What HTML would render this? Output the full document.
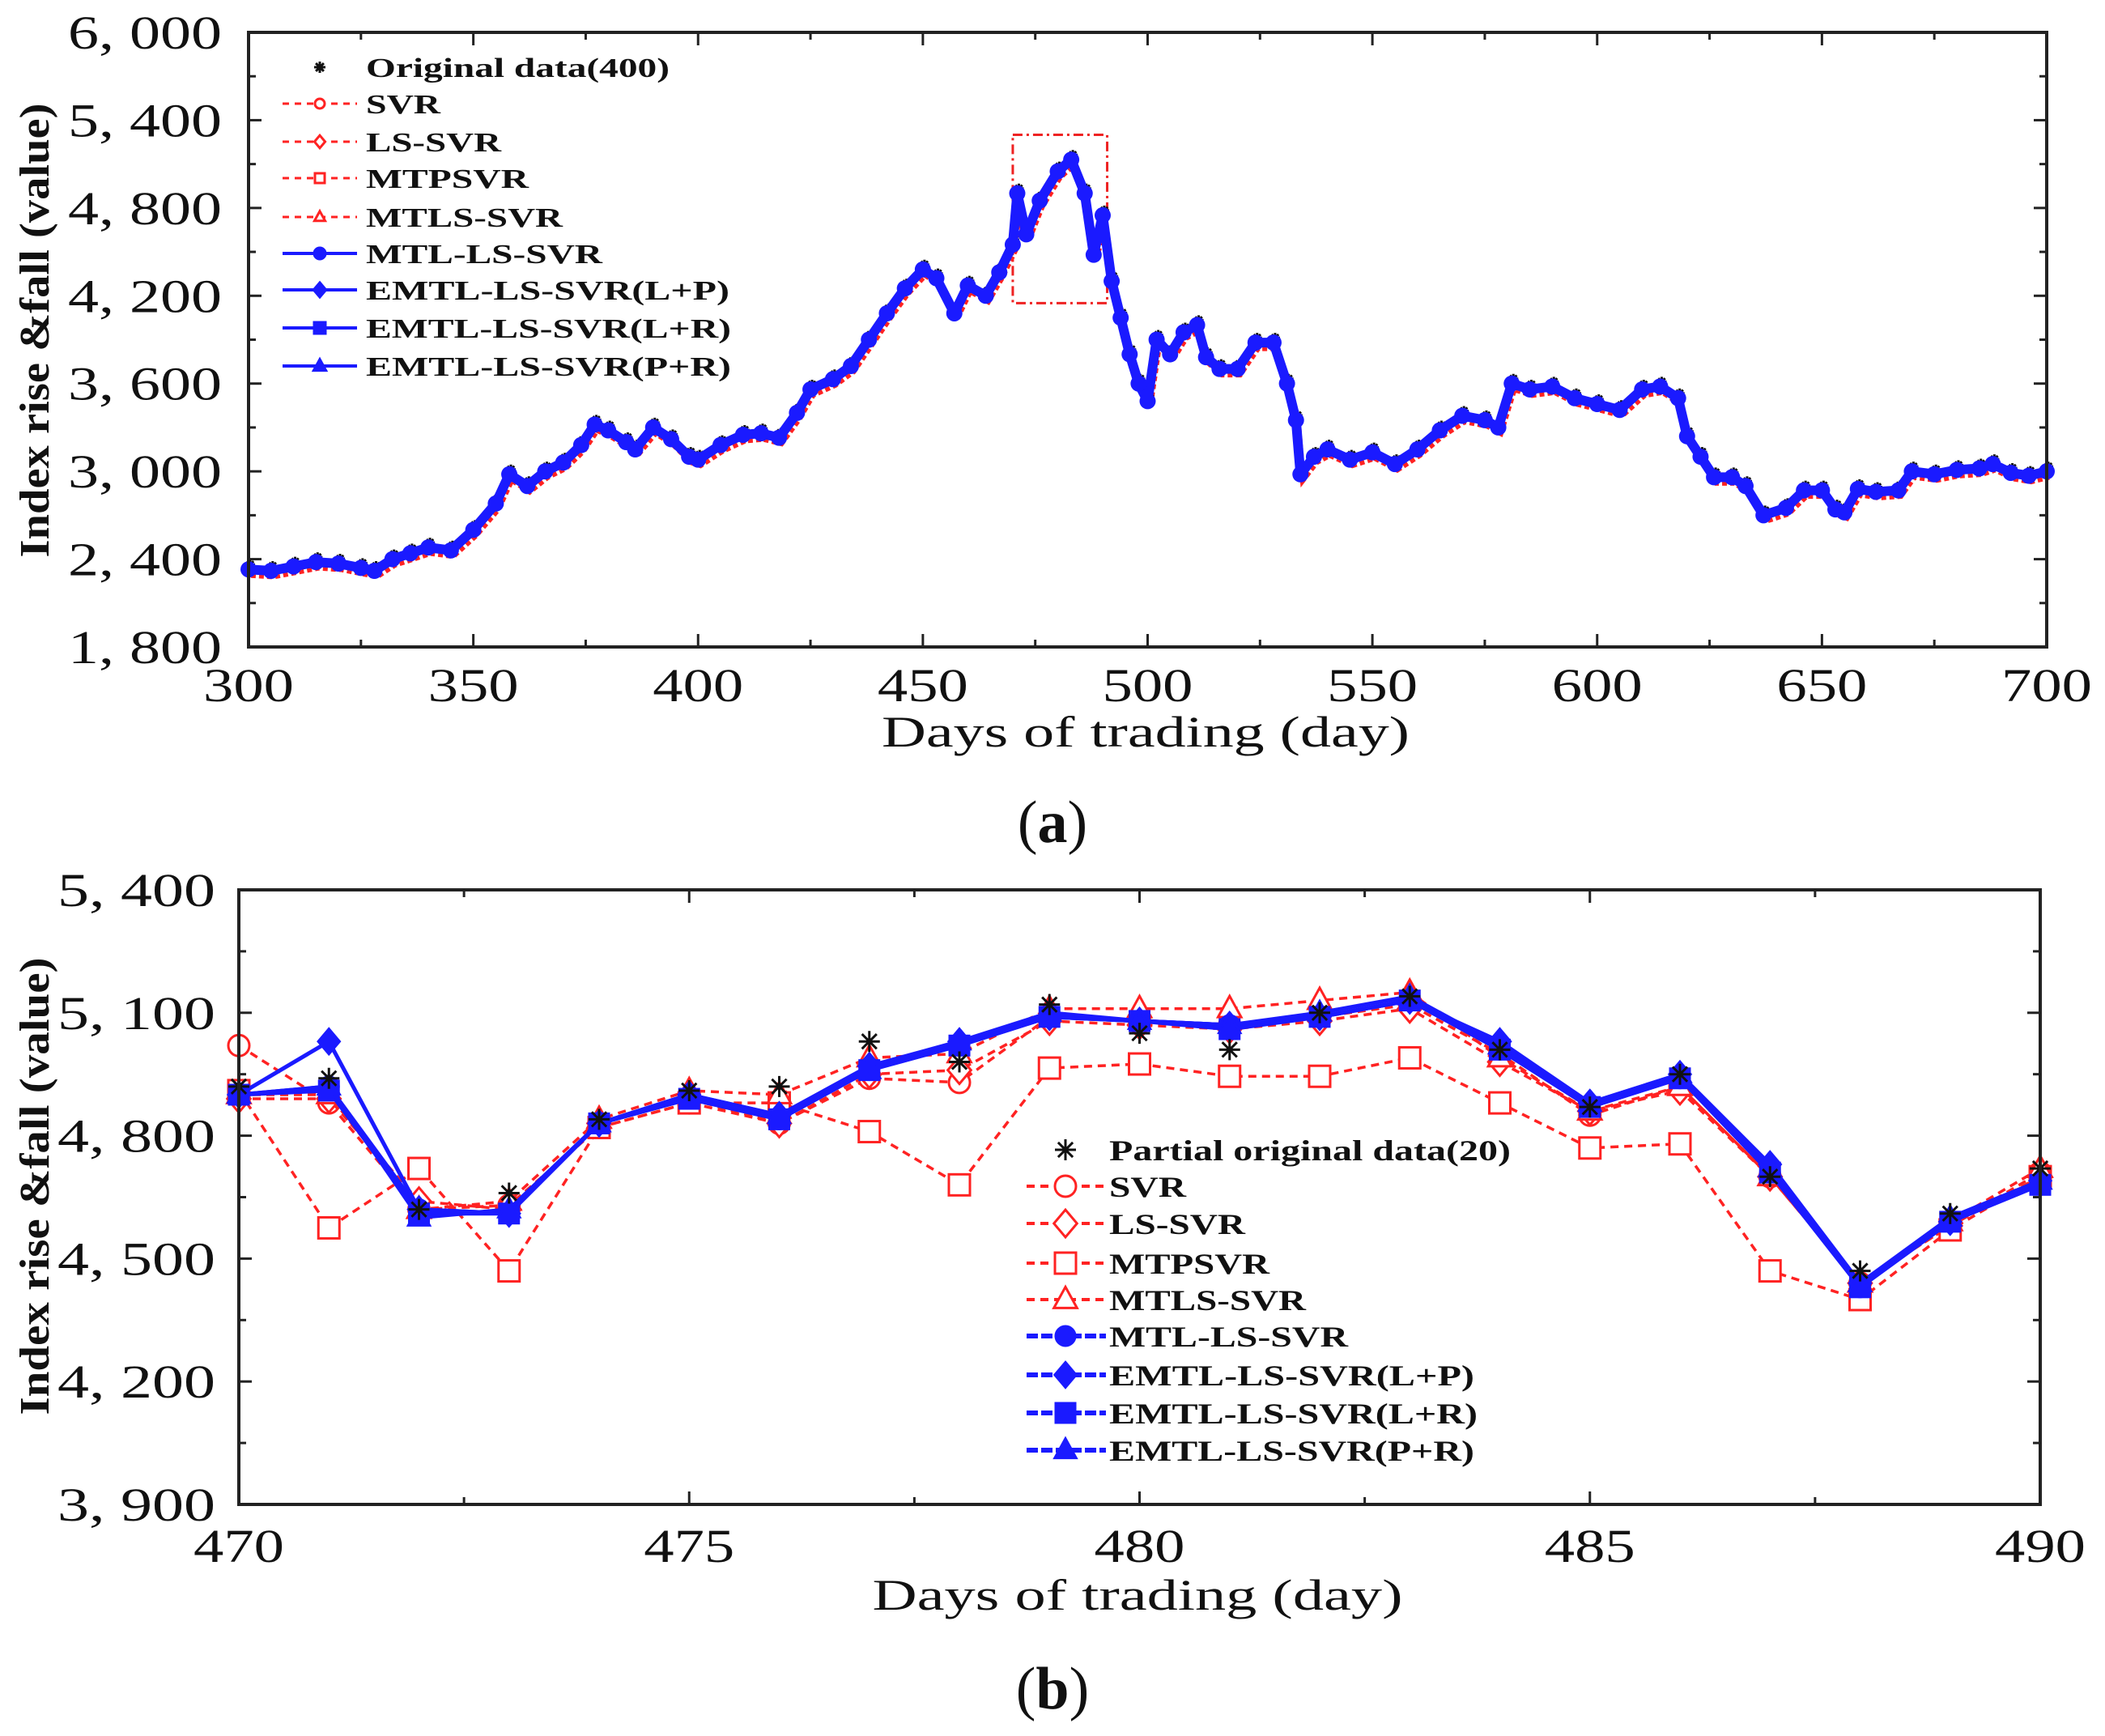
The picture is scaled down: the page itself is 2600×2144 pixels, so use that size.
<!DOCTYPE html>
<html><head><meta charset="utf-8">
<style>
html,body{margin:0;padding:0;background:#fff;}
svg{display:block;}
text{font-family:"Liberation Serif",serif;fill:#111;}
</style></head>
<body>
<svg id="fig" width="2600" height="2144" viewBox="0 0 2600 2144" xmlns="http://www.w3.org/2000/svg">
<g id="pa"></g>
<g id="pb"></g>
</svg>
<script>
// ---------- Chart (a) data ----------
const daysA = [300,305,310,315,320,325,328,332,336,340,345,350,355,358,362,366,370,374,377,380,384,386,390,394,398,400,405,410,414,418,422,425,430,434,438,442,446,450,453,457,460,464,467,470,471,473,476,480,483,486,488,490,492,494,496,498,500,502,505,508,511,513,516,520,524,528,531,533,534,537,540,545,550,555,560,565,570,575,578,581,585,590,595,600,605,610,614,618,620,623,626,630,633,637,642,646,650,653,655,658,662,667,670,675,680,685,688,692,696,700];
const valuesA = [2330,2320,2350,2380,2370,2340,2320,2400,2440,2480,2460,2600,2780,2980,2900,3000,3060,3180,3320,3280,3200,3150,3300,3220,3100,3080,3180,3250,3260,3230,3400,3560,3630,3720,3900,4080,4250,4380,4320,4080,4270,4200,4360,4550,4900,4620,4850,5050,5130,4900,4480,4750,4300,4050,3800,3600,3480,3900,3800,3950,4000,3780,3700,3700,3880,3880,3600,3350,2980,3100,3150,3080,3130,3050,3150,3280,3380,3350,3300,3600,3560,3580,3500,3460,3420,3560,3580,3500,3240,3100,2960,2960,2900,2700,2750,2870,2870,2740,2720,2880,2860,2870,3000,2980,3010,3020,3050,2990,2970,3000];
const yTicksA = [1800,2400,3000,3600,4200,4800,5400,6000];
const yTickLabelsA = ["1, 800","2, 400","3, 000","3, 600","4, 200","4, 800","5, 400","6, 000"];
const xTicksA = [300,350,400,450,500,550,600,650,700];
const legendA = ["Original data(400)","SVR","LS-SVR","MTPSVR","MTLS-SVR","MTL-LS-SVR","EMTL-LS-SVR(L+P)","EMTL-LS-SVR(L+R)","EMTL-LS-SVR(P+R)"];

// ---------- Chart (b) data ----------
const daysB = [470,471,472,473,474,475,476,477,478,479,480,481,482,483,484,485,486,487,488,489,490];
const origB = [4920,4940,4620,4660,4840,4910,4920,5030,4980,5120,5050,5010,5100,5140,5010,4870,4950,4700,4470,4610,4720];
const svrB = [5020,4880,4620,4630,4820,4880,4830,4940,4930,5090,5080,5070,5090,5120,5000,4850,4920,4700,4440,4580,4710];
const lssvrB = [4890,4890,4640,4620,4830,4890,4830,4950,4960,5080,5070,5060,5080,5110,4980,4860,4910,4700,4440,4580,4700];
const mtpsvrB = [4910,4575,4720,4470,4820,4880,4880,4810,4680,4965,4975,4945,4945,4990,4880,4770,4780,4470,4400,4570,4700];
const mtlssvrB = [4900,4900,4620,4640,4840,4910,4900,4990,5000,5110,5110,5110,5130,5150,4990,4860,4920,4700,4440,4590,4720];
const mtllssvrB = [4900,4920,4620,4610,4830,4890,4840,4960,5020,5090,5080,5070,5090,5130,5010,4870,4940,4710,4430,4590,4680];
const lpB = [4900,5030,4620,4610,4830,4900,4850,4970,5030,5090,5080,5070,5090,5130,5030,4880,4950,4730,4440,4590,4690];
const lrB = [4900,4910,4610,4610,4830,4890,4840,4960,5020,5090,5080,5060,5090,5130,5010,4870,4940,4710,4430,4590,4680];
const prB = [4900,4920,4600,4620,4830,4900,4850,4960,5030,5100,5080,5070,5100,5140,5020,4880,4950,4720,4440,4600,4690];
const yTicksB = [3900,4200,4500,4800,5100,5400];
const yTickLabelsB = ["3, 900","4, 200","4, 500","4, 800","5, 100","5, 400"];
const xTicksB = [470,475,480,485,490];
const legendB = ["Partial original data(20)","SVR","LS-SVR","MTPSVR","MTLS-SVR","MTL-LS-SVR","EMTL-LS-SVR(L+P)","EMTL-LS-SVR(L+R)","EMTL-LS-SVR(P+R)"];

const NS = "http://www.w3.org/2000/svg";
function mk(parent, tag, attrs, txt){
  const e = document.createElementNS(NS, tag);
  for (const k in attrs) e.setAttribute(k, attrs[k]);
  if (txt !== undefined) e.textContent = txt;
  parent.appendChild(e);
  return e;
}
function marker(g, shape, cx, cy, r, color, filled){
  const f = filled ? color : "#fff";
  let e;
  if (shape === "circle") e = mk(g, "circle", {cx:cx, cy:cy, r:r, fill:f, stroke:color, "stroke-width":3});
  else if (shape === "diamond") e = mk(g, "polygon", {points:`${cx},${cy-r*1.3} ${cx+r*1.1},${cy} ${cx},${cy+r*1.3} ${cx-r*1.1},${cy}`, fill:f, stroke:color, "stroke-width":3});
  else if (shape === "square") e = mk(g, "rect", {x:cx-r, y:cy-r, width:2*r, height:2*r, fill:f, stroke:color, "stroke-width":3});
  else if (shape === "triangle") e = mk(g, "polygon", {points:`${cx},${cy-r*1.2} ${cx+r*1.1},${cy+r*0.8} ${cx-r*1.1},${cy+r*0.8}`, fill:f, stroke:color, "stroke-width":3});
  else if (shape === "star") {
    e = mk(g, "path", {d:`M${cx-r},${cy}H${cx+r}M${cx},${cy-r}V${cy+r}M${cx-r*0.7},${cy-r*0.7}L${cx+r*0.7},${cy+r*0.7}M${cx-r*0.7},${cy+r*0.7}L${cx+r*0.7},${cy-r*0.7}`, stroke:"#111", "stroke-width":3, fill:"none"});
  }
  return e;
}

// ================= Chart (a) =================
(function(){
  const g = document.getElementById("pa");
  const L=307, R=2528, T=40, B=799;
  const xA = d => L + (d-300)/400*(R-L);
  const yA = v => B - (v-1800)/4200*(B-T);
  const tg = mk(g,"g",{});
  
  
  for (let d=300; d<=700; d+=25){
    const len = (d%50===0)?16:9;
    mk(tg,"line",{x1:xA(d),x2:xA(d),y1:B,y2:B-len,stroke:"#222","stroke-width":3});
    mk(tg,"line",{x1:xA(d),x2:xA(d),y1:T,y2:T+len,stroke:"#222","stroke-width":3});
  }
  for (let v=1800; v<=6000; v+=300){
    const len = (v%600===0)?16:9;
    mk(tg,"line",{x1:L,x2:L+len,y1:yA(v),y2:yA(v),stroke:"#222","stroke-width":3});
    mk(tg,"line",{x1:R,x2:R-len,y1:yA(v),y2:yA(v),stroke:"#222","stroke-width":3});
  }
  yTicksA.forEach((v,i)=>{
    const t = mk(g,"text",{x:274,y:yA(v)+20,"text-anchor":"end","font-size":58,textLength:190,lengthAdjust:"spacingAndGlyphs"},yTickLabelsA[i]);
    
    
  });
  xTicksA.forEach(d=>{
    const t = mk(g,"text",{x:xA(d),y:866,"text-anchor":"middle","font-size":58,textLength:112,lengthAdjust:"spacingAndGlyphs"},String(d));
    
    
  });
  const xt = mk(g,"text",{x:1415,y:922,"text-anchor":"middle","font-size":54,textLength:652,lengthAdjust:"spacingAndGlyphs"},"Days of trading (day)");
  
  
  const yt = mk(g,"text",{x:0,y:0,transform:"translate(60,408) rotate(-90)","text-anchor":"middle","font-size":52,"font-weight":"bold",textLength:561,lengthAdjust:"spacingAndGlyphs"},"Index rise &fall (value)");
  
  
  const cap = mk(g,"text",{x:1300,y:1040,"text-anchor":"middle","font-size":74},"");
  
  
  mk(cap,"tspan",{},"(");mk(cap,"tspan",{"font-weight":"bold"},"a");mk(cap,"tspan",{},")");

  const zb = mk(g,"rect",{x:xA(470),y:yA(5300),width:xA(491)-xA(470),height:yA(4150)-yA(5300),fill:"none",stroke:"#e22","stroke-width":3,"stroke-dasharray":"12 5 3 5"});
  
  

  const red = mk(g,"polyline",{points:daysA.map((d,i)=>`${xA(d)+3},${yA(valuesA[i])+7}`).join(" "),fill:"none",stroke:"#f22","stroke-width":7,"stroke-dasharray":"6 4"});
  
  
  const blk = mk(g,"g",{});
  
  
  daysA.forEach((d,i)=>marker(blk,"star",xA(d)+2,yA(valuesA[i])-6,6,"#111",true));
  const blue = mk(g,"polyline",{points:daysA.map((d,i)=>`${xA(d)},${yA(valuesA[i])}`).join(" "),fill:"none",stroke:"#1a1aff","stroke-width":12,"stroke-linejoin":"round"});
  
  
  const bm = mk(g,"g",{});
  
  
  daysA.forEach((d,i)=>mk(bm,"circle",{cx:xA(d),cy:yA(valuesA[i]),r:10,fill:"#1a1aff"}));

  const fr = mk(g,"rect",{x:L,y:T,width:R-L,height:B-T,fill:"none",stroke:"#222","stroke-width":4});
  
  

  const lg = mk(g,"g",{});
  
  
  const rowsY=[83,128,175,220,268,313,358,405,452];
  const widths=[375,92,167,201,243,292,449,451,451];
  const shapes=["star","circle","diamond","square","triangle","circle","diamond","square","triangle"];
  legendA.forEach((lab,i)=>{
    const e = mk(lg,"g",{});
    
    
    const y=rowsY[i];
    if (i>0){
      const isRed = i<5;
      mk(e,"line",{x1:349,x2:441,y1:y,y2:y,stroke:isRed?"#f22":"#1a1aff","stroke-width":isRed?3:4,"stroke-dasharray":isRed?"8 7":"none"});
      marker(e,shapes[i],395,y,isRed?6:7,isRed?"#f22":"#1a1aff",!isRed);
    } else marker(e,"star",395,y,7,"#111",true);
    mk(e,"text",{x:452,y:y+12,"font-size":34,"font-weight":"bold",textLength:widths[i],lengthAdjust:"spacingAndGlyphs"},lab);
  });
})();

// ================= Chart (b) =================
(function(){
  const g = document.getElementById("pb");
  const L=295, R=2520, T=1099, B=1858;
  const xB = d => L + (d-470)/20*(R-L);
  const yB = v => B - (v-3900)/1500*(B-T);
  const tg = mk(g,"g",{});
  
  
  for (let d=470; d<=490; d+=2.5){
    const len = (d%5===0)?16:9;
    mk(tg,"line",{x1:xB(d),x2:xB(d),y1:B,y2:B-len,stroke:"#222","stroke-width":3});
    mk(tg,"line",{x1:xB(d),x2:xB(d),y1:T,y2:T+len,stroke:"#222","stroke-width":3});
  }
  for (let v=3900; v<=5400; v+=150){
    const len = ((v-3900)%300===0)?16:9;
    mk(tg,"line",{x1:L,x2:L+len,y1:yB(v),y2:yB(v),stroke:"#222","stroke-width":3});
    mk(tg,"line",{x1:R,x2:R-len,y1:yB(v),y2:yB(v),stroke:"#222","stroke-width":3});
  }
  yTicksB.forEach((v,i)=>{
    const t = mk(g,"text",{x:266,y:yB(v)+20,"text-anchor":"end","font-size":58,textLength:195,lengthAdjust:"spacingAndGlyphs"},yTickLabelsB[i]);
    
    
  });
  xTicksB.forEach(d=>{
    const t = mk(g,"text",{x:xB(d),y:1929,"text-anchor":"middle","font-size":58,textLength:112,lengthAdjust:"spacingAndGlyphs"},String(d));
    
    
  });
  const xt = mk(g,"text",{x:1405,y:1988,"text-anchor":"middle","font-size":54,textLength:655,lengthAdjust:"spacingAndGlyphs"},"Days of trading (day)");
  
  
  const yt = mk(g,"text",{x:0,y:0,transform:"translate(60,1465) rotate(-90)","text-anchor":"middle","font-size":52,"font-weight":"bold",textLength:565,lengthAdjust:"spacingAndGlyphs"},"Index rise &fall (value)");
  
  
  const cap = mk(g,"text",{x:1300,y:2110,"text-anchor":"middle","font-size":74},"");
  
  
  mk(cap,"tspan",{},"(");mk(cap,"tspan",{"font-weight":"bold"},"b");mk(cap,"tspan",{},")");

  const series = [
    {v:svrB, name:"series-svr", shape:"circle", red:true},
    {v:lssvrB, name:"series-ls-svr", shape:"diamond", red:true},
    {v:mtpsvrB, name:"series-mtpsvr", shape:"square", red:true},
    {v:mtlssvrB, name:"series-mtls-svr", shape:"triangle", red:true},
    {v:mtllssvrB, name:"series-mtl-ls-svr", shape:"circle", red:false},
    {v:lpB, name:"series-emtl-lp", shape:"diamond", red:false},
    {v:lrB, name:"series-emtl-lr", shape:"square", red:false},
    {v:prB, name:"series-emtl-pr", shape:"triangle", red:false}
  ];
  series.forEach(s=>{
    const sg = mk(g,"g",{});
    
    
    const c = s.red ? "#f22" : "#1a1aff";
    mk(sg,"polyline",{points:daysB.map((d,i)=>`${xB(d)},${yB(s.v[i])}`).join(" "),fill:"none",stroke:c,"stroke-width":s.red?3.5:5,"stroke-dasharray":s.red?"10 7":"none"});
    daysB.forEach((d,i)=>marker(sg,s.shape,xB(d),yB(s.v[i]),s.red?13:12,c,!s.red));
  });
  const og = mk(g,"g",{});
  
  
  daysB.forEach((d,i)=>marker(og,"star",xB(d),yB(origB[i]),13,"#111",true));

  const fr = mk(g,"rect",{x:L,y:T,width:R-L,height:B-T,fill:"none",stroke:"#222","stroke-width":4});
  
  

  const lg = mk(g,"g",{});
  
  
  const rowsY=[1420,1465,1511,1560,1605,1650,1698,1745,1791];
  const widths=[496,95,168,198,243,295,451,455,451];
  const shapes=["star","circle","diamond","square","triangle","circle","diamond","square","triangle"];
  legendB.forEach((lab,i)=>{
    const e = mk(lg,"g",{});
    
    
    const y=rowsY[i];
    if (i>0){
      const isRed = i<5;
      mk(e,"line",{x1:1268,x2:1366,y1:y,y2:y,stroke:isRed?"#f22":"#1a1aff","stroke-width":isRed?4:6,"stroke-dasharray":isRed?"10 7":"14 4"});
      marker(e,shapes[i],1316,y,isRed?13:12,isRed?"#f22":"#1a1aff",!isRed);
    } else marker(e,"star",1316,y,13,"#111",true);
    mk(e,"text",{x:1370,y:y+13,"font-size":36,"font-weight":"bold",textLength:widths[i],lengthAdjust:"spacingAndGlyphs"},lab);
  });
})();
</script>
</body></html>
